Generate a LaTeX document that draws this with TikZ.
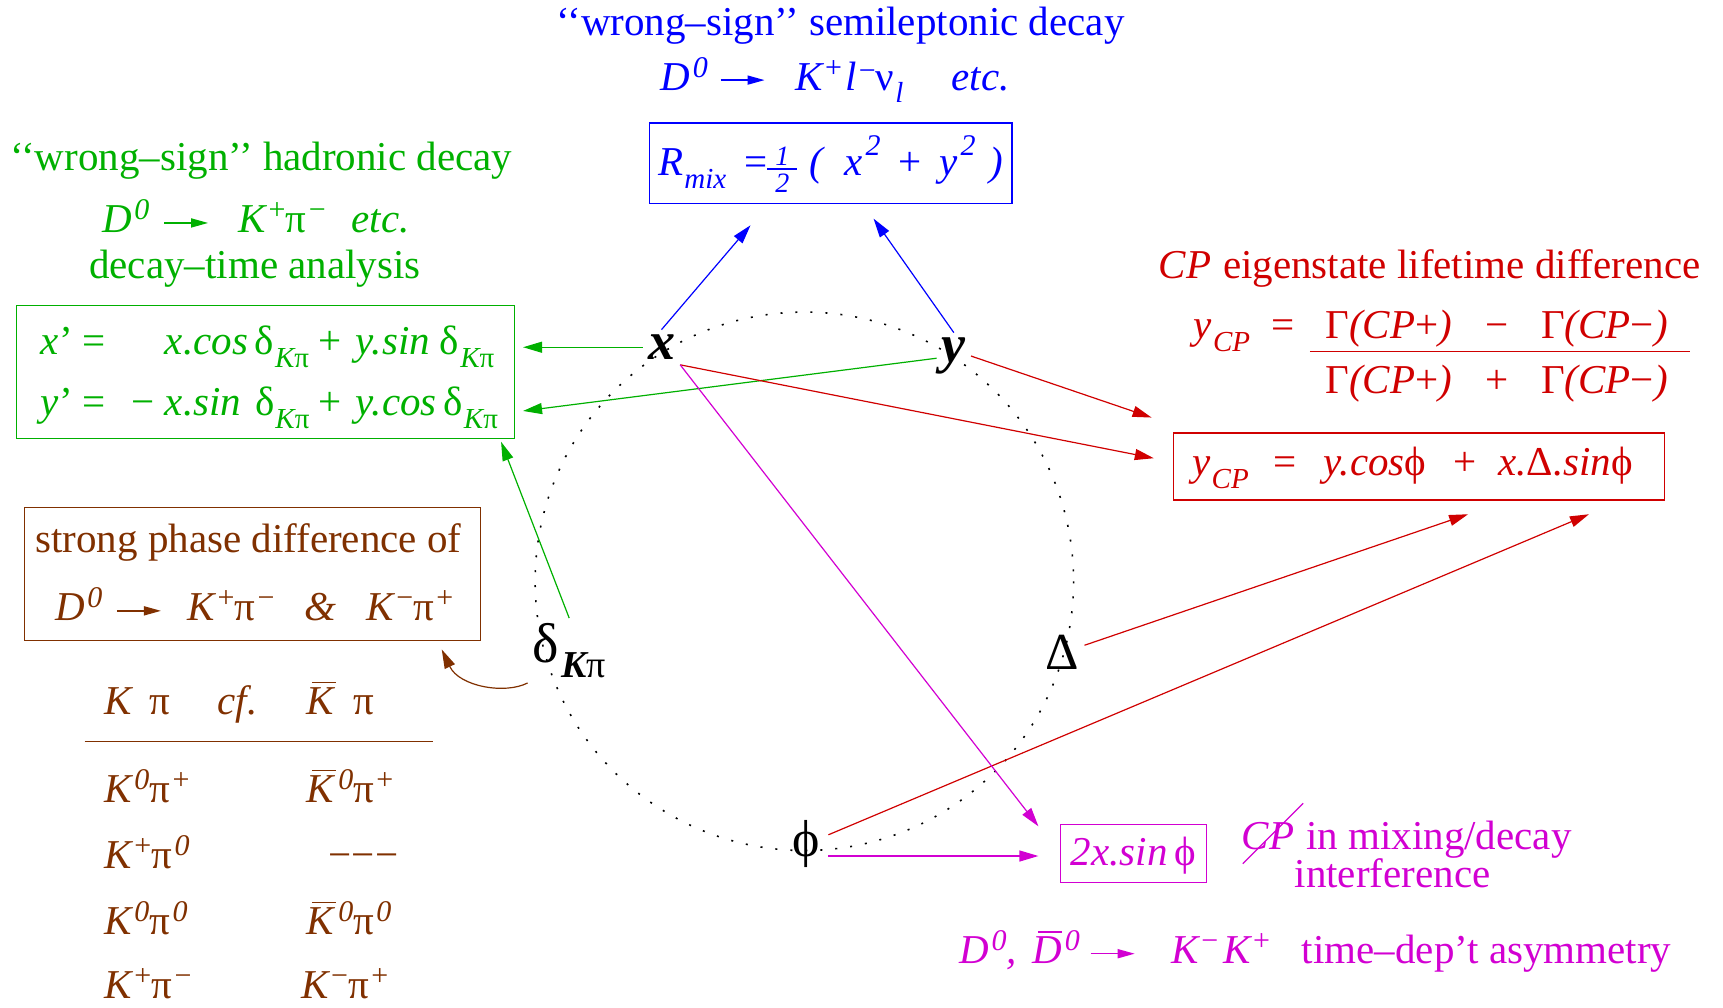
\documentclass[tikz,border=0pt]{standalone}
\usepackage{fontspec}
\setmainfont{Liberation Serif}
\usetikzlibrary{arrows.meta}
\definecolor{fblue}{RGB}{0,0,255}
\definecolor{fgreen}{RGB}{0,176,0}
\definecolor{fred}{RGB}{208,0,0}
\definecolor{fmag}{RGB}{210,0,210}
\definecolor{fbrown}{RGB}{128,48,0}
\newcommand\I[1]{{\itshape #1}}
\newcommand\sps[2][13pt]{\kern2.5pt\raisebox{#1}{\fontsize{30}{30}\selectfont #2}}
\newcommand\sbs[2][-12pt]{\kern1pt\raisebox{#1}{\fontsize{29}{29}\selectfont #2}}
\newcommand\arr{\tikz[baseline=0pt]\draw[line width=1.5pt,-{Triangle[length=17pt,width=9pt]}] (0pt,10pt)--(44pt,10pt);}
\newcommand\ob[1]{\leavevmode\vbox{\offinterlineskip\hbox{\kern5pt\vrule height 1.4pt depth 0pt width 24pt}\kern4pt\hbox{#1}}}
\newcommand\ph{ϕ}
\newcommand\half{\ensuremath{\vcenter{\hbox to 30pt{\hss\fontsize{28}{28}\selectfont\itshape 1\hss}\kern3pt\hrule height 1.2pt\kern4pt\hbox to 30pt{\hss\fontsize{28}{28}\selectfont\itshape 2\hss}}}}
\begin{document}
\begin{tikzpicture}[x=1.0989pt,y=-1.0989pt,
  every node/.style={inner sep=0pt,font=\fontsize{41}{45}\selectfont},
  txt/.style={anchor=base},
  lab/.style={inner sep=5pt,text=black},
  con/.style={line width=1.2pt,-{Triangle[length=19pt,width=11pt]}}]
\useasboundingbox (0,0) rectangle (1568,917);
% dotted circle
\draw[black,line width=1.6pt,dash pattern=on 2pt off 13pt] (732,529) circle [radius=245];

% ---------- blue
\node[txt,fblue] (wsl) at (765,32) {‘‘wrong–sign’’ semileptonic decay};
\node[txt,fblue] (dkl) at (760,82) {\I{D}\sps{\I{0}}\hspace{12pt}\arr\hspace{30pt}\I{K}\sps{+}\hspace{3pt}\I{l}\sps[10pt]{−}ν\sbs{\I{l}}\hspace{48pt}\I{etc.}};
\node[draw=fblue,line width=1.3pt,minimum width=362.6pt,minimum height=80.2pt] (rmix) at (756,148.5) {};
\node[txt,fblue] (rmixt) at (756,160) {\I{R}\sbs[-13pt]{\I{mix}}\hspace{18pt}=\half\hspace{12pt}\I{(}\hspace{22pt}\I{x}\sps[20pt]{\I{2}}\hspace{18pt}+\hspace{18pt}\I{y}\sps[20pt]{\I{2}}\hspace{14pt}\I{)}};

% ---------- green
\node[txt,fgreen] (wsh) at (238,155) {‘‘wrong–sign’’ hadronic decay};
\node[txt,fgreen] (dkp) at (233,212) {\I{D}\sps{\I{0}}\hspace{14pt}\arr\hspace{30pt}\I{K}\sps{+}π\sps{−}\hspace{26pt}\I{etc.}};
\node[txt,fgreen] (dta) at (232,253) {decay–time analysis};
\node[draw=fgreen,line width=1.3pt,minimum width=497.8pt,minimum height=133pt] (gbox) at (241.5,338.5) {};
\node[anchor=base west,fgreen] (l1) at (37,323) {\makebox[124pt][l]{\I{x}’ =}\makebox[154pt][l]{\I{x.cos}\,δ\sbs[-13pt]{\I{K}π}}+\hspace{14pt}\I{y.sin}\hspace{10pt}δ\sbs[-13pt]{\I{K}π}};
\node[anchor=base west,fgreen] (l2) at (37,378) {\makebox[124pt][l]{\makebox[91pt][l]{\I{y}’ =}−}\makebox[154pt][l]{\I{x.sin}\hspace{14pt}δ\sbs[-13pt]{\I{K}π}}+\hspace{14pt}\I{y.cos}\,δ\sbs[-13pt]{\I{K}π}};

% ---------- red
\node[txt,fred] (cpe) at (1301,253) {\I{CP}\hspace{12pt}eigenstate lifetime difference};
\node[txt,fred] (ycpl) at (1112,308) {\I{y}\sbs[-13pt]{\I{CP}}};
\node[txt,fred] (eq) at (1168,308) {=};
\node[txt,fred] (num) at (1362,308) {Γ\I{(CP}+\I{)}\hspace{33pt}−\hspace{33pt}Γ\I{(CP}−\I{)}};
\node[txt,fred] (den) at (1362,358) {Γ\I{(CP}+\I{)}\hspace{33pt}+\hspace{33pt}Γ\I{(CP}−\I{)}};
\draw[fred,line width=1.2pt] (1192,320) -- (1538,320);
\node[draw=fred,line width=1.3pt,minimum width=491.2pt,minimum height=67pt] (ybox) at (1291.5,424.5) {};
\node[anchor=base west,fred] (ybt) at (1085,433) {\I{y}\sbs[-13pt]{\I{CP}}\hspace{25pt}=\hspace{27pt}\I{y.cos}\ph\hspace{27pt}+\hspace{22pt}\I{x.}Δ\I{.sin}\ph};

% ---------- brown
\node[draw=fbrown,line width=1.3pt,minimum width=456pt,minimum height=133pt] (bbox) at (229.5,522.5) {};
\node[txt,fbrown] (sp1) at (226,503) {strong phase difference of};
\node[anchor=base west,fbrown] (sp2) at (50,565) {\I{D}\sps{\I{0}}\hspace{14pt}\arr\hspace{26pt}\I{K}\sps{+}π\sps{−}\hspace{30pt}\I{\&}\hspace{30pt}\I{K}\sps{−}π\sps{+}};
\node[anchor=base west,fbrown] (h1) at (95,650) {\I{K}\hspace{18pt}π};
\node[anchor=base west,fbrown] (h2) at (198,650) {\I{cf.}};
\node[anchor=base west,fbrown] (h3) at (279,650) {\ob{\I{K}}\hspace{18pt}π};
\draw[fbrown,line width=1.2pt] (77,675) -- (394,675);
\node[anchor=base west,fbrown] (r1a) at (95,730) {\I{K}\sps{\I{0}}π\sps{+}};
\node[anchor=base west,fbrown] (r1b) at (279,730) {\ob{\I{K}}\sps{\I{0}}π\sps{+}};
\node[anchor=base west,fbrown] (r2a) at (95,790) {\I{K}\sps{+}π\sps{\I{0}}};
\node[anchor=base west,fbrown] (r2b) at (299,790) {−−−};
\node[anchor=base west,fbrown] (r3a) at (95,850) {\I{K}\sps{\I{0}}π\sps{\I{0}}};
\node[anchor=base west,fbrown] (r3b) at (279,850) {\ob{\I{K}}\sps{\I{0}}π\sps{\I{0}}};
\node[anchor=base west,fbrown] (r4a) at (95,909) {\I{K}\sps{+}π\sps{−}};
\node[anchor=base west,fbrown] (r4b) at (274,909) {\I{K}\sps{−}π\sps{+}};

% ---------- magenta
\node[draw=fmag,line width=1.3pt,minimum width=146.2pt,minimum height=58.2pt] (mbox) at (1031.5,776.5) {};
\node[txt,fmag] (mbt) at (1031.5,788) {\I{2x.sin}\,\ph};
\node[anchor=base west,fmag] (cpv) at (1130,773) {\I{CP}\hspace{12pt}in mixing/decay};
\draw[fmag,line width=1.2pt] (1131,786) -- (1186,731);
\node[anchor=base west,fmag] (intf) at (1178,808) {interference};
\node[anchor=base west,fmag] (dkk) at (873,877) {\I{D}\sps{\I{0}}\I{,}\hspace{16pt}\ob{\I{D}}\sps{\I{0}}\hspace{10pt}\arr\hspace{36pt}\I{K}\sps{−}\hspace{5pt}\I{K}\sps{+}\hspace{32pt}time–dep’t asymmetry};

% ---------- circle labels
\node[lab,font=\fontsize{54}{54}\selectfont\bfseries\itshape] (x) at (602,316) {x};
\node[lab,font=\fontsize{54}{54}\selectfont\bfseries\itshape] (y) at (868,324) {y};
\node[lab,font=\fontsize{56}{56}\selectfont] (d) at (518,592) {δ\kern2pt\raisebox{-15pt}{\fontsize{38}{38}\selectfont\bfseries\itshape K\normalfont\upshape π}};
\node[lab,font=\fontsize{52}{52}\selectfont] (D) at (967,594) {Δ};
\node[lab,inner sep=8pt,font=\fontsize{52}{52}\selectfont] (p) at (734,768) {\ph};

% ---------- connector ends
\coordinate (eR1) at (683,205);
\coordinate (eR2) at (795,199);
\coordinate (eG1) at (476,314);
\coordinate (eG2) at (476,374);
\coordinate (eG3) at (456,402);
\coordinate (eY1) at (1048,380);
\coordinate (eY2) at (1050,417);
\coordinate (eY3) at (1336,468);
\coordinate (eY4) at (1446,468);
\coordinate (eM1) at (945,752);
\coordinate (eM2) at (945,779);
\coordinate (eB1) at (402,591);

% ---------- connectors
\draw[con,fblue] (x.north) -- (eR1);
\draw[con,fblue] (y.north) -- (eR2);
\draw[con,fgreen] (x.west) -- (x.west -| eG1);
\draw[con,fgreen] (y) -- (eG2);
\draw[con,fgreen] (d.north) -- (eG3);
\draw[con,fred] (y.east) -- (eY1);
\draw[con,fred] (x.south east) -- (eY2);
\draw[con,fred] (D) -- (eY3);
\draw[con,fred] (p) -- (eY4);
\draw[con,fmag] (x.south east) -- (eM1);
\draw[con,fmag] (p.east |- eM2) -- (eM2);
\draw[con,fbrown] (d.south west) .. controls (460,632) and (418,625) .. (eB1);
\end{tikzpicture}
\end{document}
